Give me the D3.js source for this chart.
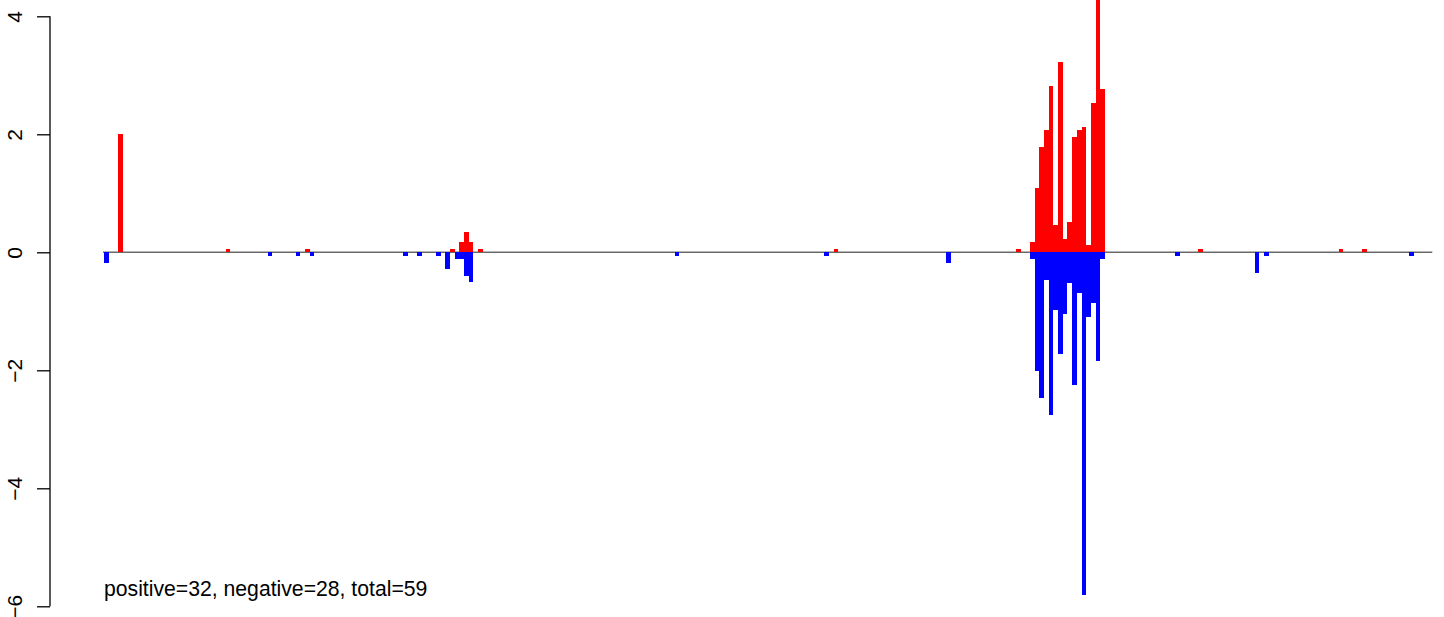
<!DOCTYPE html>
<html>
<head>
<meta charset="utf-8">
<script src="https://cdn.jsdelivr.net/npm/d3@7"></script>
<style>
  html, body { margin: 0; padding: 0; background: #ffffff; }
  svg { display: block; }
</style>
</head>
<body>
<svg id="chart" width="1444" height="617"></svg>
<script>
// ---- data ----
const nBins = 284;
const posBin = [3, 26, 43, 74, 76, 77, 78, 80, 156, 195,
  198, 199, 200, 201, 202, 203, 204, 205, 206, 207, 208, 209, 210, 211, 212, 213,
  234, 264, 269];
const posVal = [2.0, 0.06, 0.06, 0.06, 0.17, 0.34, 0.17, 0.06, 0.06, 0.06,
  0.17, 1.09, 1.78, 2.07, 2.82, 0.46, 3.22, 0.23, 0.51, 1.95, 2.07, 2.12, 0.12, 2.53, 4.4, 2.77,
  0.06, 0.06, 0.06];
const negBin = [0, 35, 41, 44, 64, 67, 71, 73, 75, 76, 77, 78, 122, 154, 180,
  198, 199, 200, 201, 202, 203, 204, 205, 206, 207, 208, 209, 210, 211, 212, 213,
  229, 246, 248, 279];
const negVal = [-0.18, -0.06, -0.06, -0.06, -0.06, -0.06, -0.06, -0.28, -0.11, -0.11, -0.40, -0.51, -0.06, -0.06, -0.18,
  -0.12, -2.02, -2.47, -0.47, -2.76, -0.98, -1.72, -1.05, -0.52, -2.25, -0.69, -5.81, -1.10, -0.86, -1.84, -0.12,
  -0.06, -0.35, -0.06, -0.06];
const yTicks = [-6, -4, -2, 0, 2, 4];
const yTickLabels = ["\u22126", "\u22124", "\u22122", "0", "2", "4"];
const summaryText = "positive=32, negative=28, total=59";

// ---- drawing ----
const svg = d3.select("#chart");
const x = d3.scaleLinear().domain([0, nBins]).range([104, 1432.3]);
const y = d3.scaleLinear().domain([-6, 4]).range([606.3, 16.3]);

// zero line (under bars)
svg.append("line")
  .attr("x1", x(0) - 1).attr("x2", x(nBins))
  .attr("y1", y(0)).attr("y2", y(0))
  .attr("stroke", "#6a6a6a").attr("stroke-width", 1.5);

const pos = posBin.map((b, i) => ({ b, v: posVal[i] }));
const neg = negBin.map((b, i) => ({ b, v: negVal[i] }));

svg.append("g").attr("shape-rendering", "crispEdges")
  .selectAll("rect").data(pos).join("rect")
  .attr("x", d => x(d.b))
  .attr("width", d => x(d.b + 1) - x(d.b))
  .attr("y", d => y(d.v))
  .attr("height", d => y(0) - y(d.v))
  .attr("fill", "#ff0000");

svg.append("g").attr("shape-rendering", "crispEdges")
  .selectAll("rect").data(neg).join("rect")
  .attr("x", d => x(d.b))
  .attr("width", d => x(d.b + 1) - x(d.b))
  .attr("y", y(0))
  .attr("height", d => y(d.v) - y(0))
  .attr("fill", "#0000ff");

// y axis
const axis = d3.axisLeft(y).tickValues(yTicks).tickSize(13)
  .tickFormat((d, i) => yTickLabels[i]);
const gAxis = svg.append("g").attr("transform", "translate(50,0)").call(axis);
gAxis.select(".domain").attr("d", `M0,${y(-6)}V${y(4)}`).attr("stroke", "#000").attr("stroke-width", 1.3);
gAxis.selectAll(".tick line").attr("stroke", "#000").attr("stroke-width", 1.3);
gAxis.selectAll(".tick text")
  .attr("x", null).attr("dy", null)
  .attr("transform", "translate(-28,0) rotate(-90)")
  .attr("text-anchor", "middle")
  .attr("font-family", "'Liberation Sans', Arial, sans-serif")
  .attr("font-size", 21)
  .attr("fill", "#000");

// summary text
svg.append("text")
  .attr("x", 104).attr("y", 596)
  .attr("font-family", "'Liberation Sans', Arial, sans-serif")
  .attr("font-size", 21.2)
  .attr("fill", "#000")
  .text(summaryText);
</script>
</body>
</html>
